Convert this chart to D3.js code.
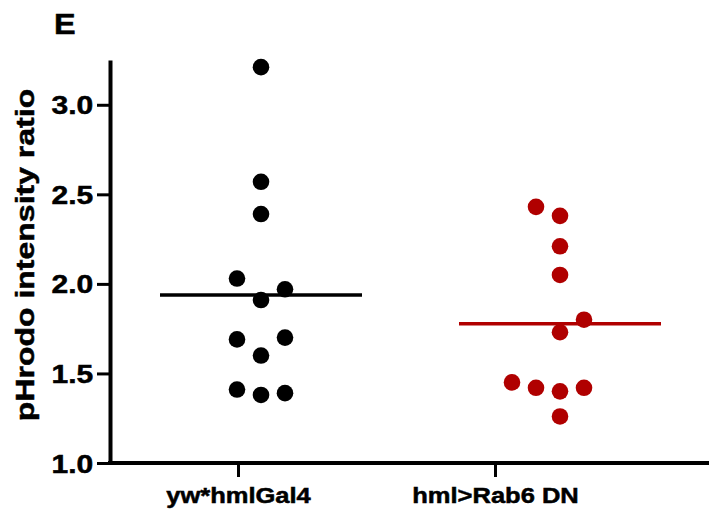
<!DOCTYPE html>
<meta charset="utf-8">
<style>
  body {
    margin: 0;
    background: #fff;
  }

  svg text {
    font-family: "Liberation Sans", Arial, Helvetica, sans-serif;
    font-weight: bold;
    fill: #000;
    stroke: #000;
    stroke-width: 0.5px;
  }

  .axis path,
  .axis line {
    stroke: #000;
  }
</style>
<body>
  <div id="chart"></div>
  <script src="https://d3js.org/d3.v7.min.js"></script>
  <script>

// values
var groups = ["yw*hmlGal4", "hml>Rab6 DN"];
var colors = ["#000000", "#b00000"];

var controlValues = [3.21, 2.57, 2.39, 2.03, 1.91, 1.97, 1.69, 1.70, 1.60, 1.41, 1.38, 1.39];
var controlSlots  = [0, 0, 0, -1, 0, 1, -1, 1, 0, -1, 0, 1];

var rab6Values = [2.43, 2.38, 2.21, 2.05, 1.80, 1.73, 1.45, 1.42, 1.40, 1.42, 1.26];
var rab6Slots  = [-1, 0, 0, 0, 1, 0, -2, -1, 0, 1, 0];

var yTicks = [1.0, 1.5, 2.0, 2.5, 3.0];

var width = 709,
    height = 518;

var x0 = 110,      // y axis position
    baseY = 463;   // x axis position

var svg = d3.select("#chart")
  .append("svg")
  .attr("width", width)
  .attr("height", height);

var y = d3.scaleLinear()
  .domain([1.0, 3.25])
  .range([baseY, 60]);

// tick positions and dot column centres are offset like in the original
var xTick = d3.scalePoint()
  .domain(groups)
  .range([238, 495]);

var xDot = d3.scalePoint()
  .domain(groups)
  .range([261, 560]);

var slotWidth = 24,
    halfLine = 101,
    r = 8.3;

var series = [
  { name: groups[0], values: controlValues, slots: controlSlots, color: colors[0] },
  { name: groups[1], values: rab6Values, slots: rab6Slots, color: colors[1] }
];

// y axis
var yAxis = svg.append("g")
  .attr("class", "axis")
  .attr("transform", "translate(" + x0 + ",0)")
  .call(d3.axisLeft(y).tickValues(yTicks).tickFormat(d3.format(".1f")).tickSize(13).tickSizeOuter(0));

yAxis.select(".domain").attr("stroke-width", 4);
yAxis.selectAll(".tick line").attr("stroke-width", 3);
yAxis.selectAll(".tick text")
  .attr("x", -14)
  .attr("dy", "0.36em")
  .attr("transform", "scale(1.2,1)")
  .style("font-size", "25px");

// x axis
svg.append("line")
  .attr("x1", x0 - 2)
  .attr("x2", width)
  .attr("y1", baseY)
  .attr("y2", baseY)
  .attr("stroke", "#000")
  .attr("stroke-width", 4);

var xAxis = svg.append("g")
  .attr("class", "axis")
  .attr("transform", "translate(0," + baseY + ")")
  .call(d3.axisBottom(xTick).tickSize(14).tickSizeOuter(0));

xAxis.select(".domain").remove();
xAxis.selectAll(".tick line").attr("stroke-width", 3);
xAxis.selectAll(".tick text")
  .attr("y", 40)
  .attr("dy", 0)
  .attr("transform", "scale(1.16,1)")
  .style("font-size", "22px");

// dots and mean lines
series.forEach(function(s) {
  var cx = xDot(s.name);
  var g = svg.append("g");

  g.selectAll("circle")
    .data(s.values)
    .enter().append("circle")
    .attr("cx", function(d, i) { return cx + s.slots[i] * slotWidth; })
    .attr("cy", function(d) { return y(d); })
    .attr("r", r)
    .attr("fill", s.color);

  var m = d3.mean(s.values);
  g.append("line")
    .attr("x1", cx - halfLine)
    .attr("x2", cx + halfLine)
    .attr("y1", y(m))
    .attr("y2", y(m))
    .attr("stroke", s.color)
    .attr("stroke-width", 3.5);
});

// y title
svg.append("text")
  .attr("transform", "translate(34,255) rotate(-90) scale(1.28,1)")
  .attr("text-anchor", "middle")
  .style("font-size", "25px")
  .text("pHrodo intensity ratio");

// panel letter
svg.append("text")
  .attr("transform", "translate(54,34) scale(1.08,1)")
  .style("font-size", "30px")
  .text("E");

  </script>
</body>
